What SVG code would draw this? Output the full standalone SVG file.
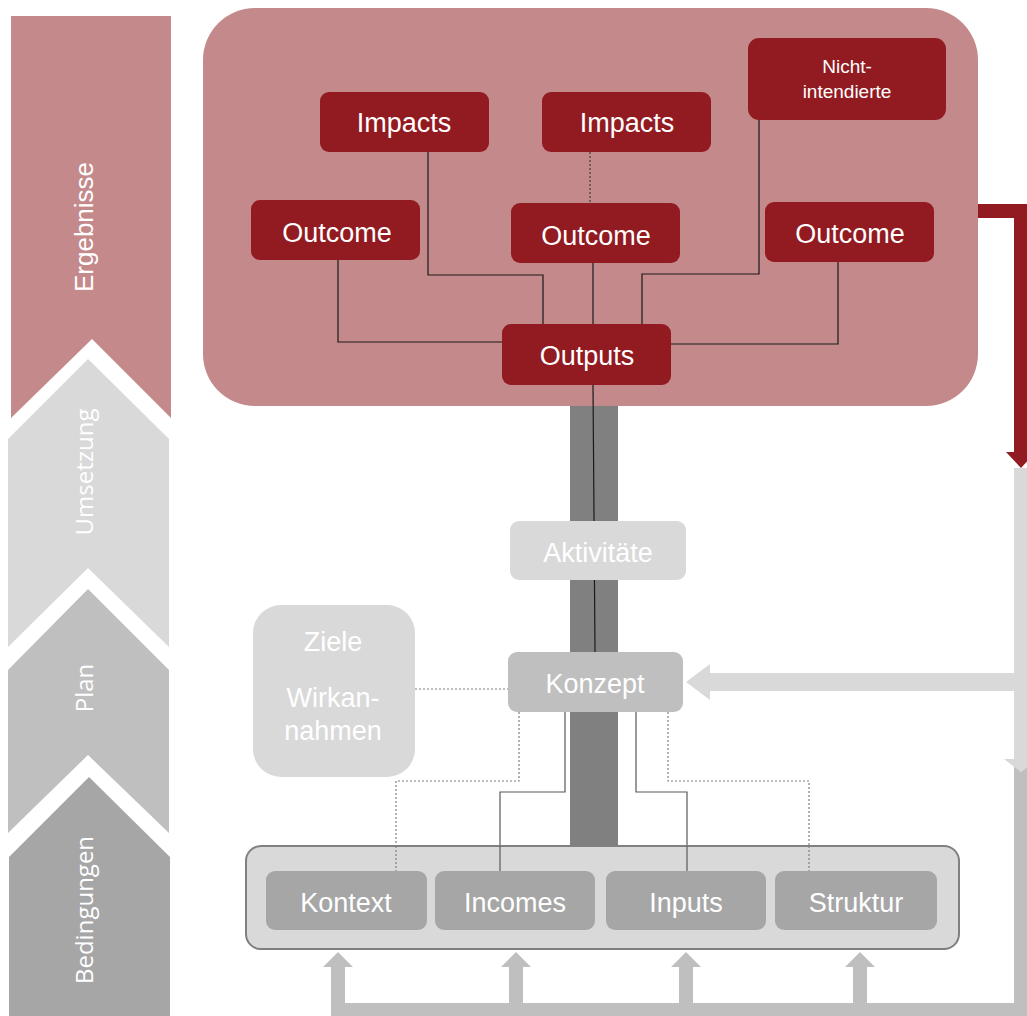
<svg xmlns="http://www.w3.org/2000/svg" width="1027" height="1016" viewBox="0 0 1027 1016">
<style>
.side{font-family:"Open Sans","Liberation Sans",sans-serif;font-size:24px;fill:#ffffff;text-anchor:middle}
.lbl{font-family:"Liberation Sans",Arial,sans-serif;font-size:27px;fill:#ffffff;text-anchor:middle}
.red{fill:#921A21}
.ln{fill:none;stroke:#1a1a1a;stroke-width:1.2}
.dash{fill:none;stroke:#2a2a2a;stroke-width:1;stroke-dasharray:2 2}
.gln{fill:none;stroke:#595959;stroke-width:1.2}
.gdot{fill:none;stroke:#7f7f7f;stroke-width:1.2;stroke-dasharray:2 2}
</style>
<rect width="1027" height="1016" fill="#ffffff"/>
<g id="phases">
<polygon points="11,16 171,16 171,418 92,339 11,418" fill="#C4898A"/>
<polygon points="8,439 88,359 169,439 169,647 88,568 8,647" fill="#D9D9D9"/>
<polygon points="8,670 88,589 169,670 169,833 88,755 8,833" fill="#BFBFBF"/>
<polygon points="9,857 89,777 170,857 170,1016 9,1016" fill="#A6A6A6"/>
<text class="side" style="font-family:'Liberation Sans',Arial,sans-serif;font-size:26px" transform="translate(93,227) rotate(-90)">Ergebnisse</text>
<text class="side" transform="translate(93,472) rotate(-90)">Umsetzung</text>
<text class="side" transform="translate(93,688) rotate(-90)">Plan</text>
<text class="side" transform="translate(93,910) rotate(-90)">Bedingungen</text>
</g>
<g id="flow-arrows">
<polygon points="975,204 1028,204 1028,452 1036,452 1021,468 1006,452 1014,452 1014,218 975,218" fill="#921A21"/>
<rect x="1014" y="760" width="14" height="256" fill="#BFBFBF"/>
<polygon points="1014,468 1028,468 1028,759 1038,759 1021,772 1004,759 1014,759" fill="#D9D9D9"/>
<polygon points="1014,673 710,673 710,664 686,682 710,700 710,691 1014,691" fill="#D9D9D9"/>
<rect x="331" y="1003" width="696" height="13" fill="#BFBFBF"/>
<polygon points="331,1010 331,967 323,967 338,952 353,967 345,967 345,1010" fill="#BFBFBF"/>
<polygon points="509,1010 509,967 501,967 516,952 531,967 523,967 523,1010" fill="#BFBFBF"/>
<polygon points="679,1010 679,967 671,967 686,952 701,967 693,967 693,1010" fill="#BFBFBF"/>
<polygon points="853,1010 853,967 845,967 860,952 875,967 867,967 867,1010" fill="#BFBFBF"/>
</g>
<g id="bar">
<rect x="570" y="400" width="48" height="450" fill="#808080"/>
</g>
<g id="ergebnisse-box">
<rect x="203" y="8" width="775" height="398" rx="52" fill="#C4898A"/>
</g>
<g id="connectors">
<polyline class="ln" points="338,260 338,342 503,342"/>
<polyline class="ln" points="428,152 428,275 543,275 543,324"/>
<line class="dash" x1="590" y1="152" x2="590" y2="203"/>
<line class="ln" x1="593" y1="263" x2="593" y2="324"/>
<polyline class="ln" points="759,120 759,274 642,274 642,324"/>
<polyline class="ln" points="838,262 838,344 670,344"/>
<line class="ln" x1="593" y1="385" x2="595" y2="652"/>
<line class="gdot" x1="415" y1="689" x2="508" y2="689"/>
<polyline class="gdot" points="519,712 519,781 396,781 396,871"/>
<polyline class="gln" points="565,712 565,792 500,792 500,871"/>
<polyline class="gln" points="636,712 636,792 687,792 687,871"/>
<polyline class="gdot" points="668,712 668,781 809,781 809,871"/>
</g>
<g id="impacts1"><rect class="red" x="320" y="92" width="169" height="60" rx="9"/><text class="lbl" x="404" y="132">Impacts</text></g>
<g id="impacts2"><rect class="red" x="542" y="92" width="169" height="60" rx="9"/><text class="lbl" x="627" y="132">Impacts</text></g>
<g id="nicht-intendierte"><rect class="red" x="748" y="38" width="198" height="82" rx="11"/><text class="lbl" style="font-size:19px" x="847" y="73">Nicht-</text><text class="lbl" style="font-size:19px" x="847" y="98">intendierte</text></g>
<g id="outcome1"><rect class="red" x="251" y="200" width="169" height="60" rx="9"/><text class="lbl" x="337" y="242">Outcome</text></g>
<g id="outcome2"><rect class="red" x="511" y="203" width="169" height="60" rx="9"/><text class="lbl" x="596" y="245">Outcome</text></g>
<g id="outcome3"><rect class="red" x="765" y="202" width="169" height="60" rx="9"/><text class="lbl" x="850" y="243">Outcome</text></g>
<g id="outputs"><rect class="red" x="502" y="324" width="169" height="61" rx="9"/><text class="lbl" x="587" y="365">Outputs</text></g>
<g id="aktivitaete"><rect x="510" y="521" width="176" height="59" rx="9" fill="#D9D9D9"/><text class="lbl" x="598" y="562">Aktivitäte</text></g>
<g id="konzept"><rect x="508" y="652" width="175" height="60" rx="9" fill="#BFBFBF"/><text class="lbl" x="595" y="693">Konzept</text></g>
<g id="ziele"><rect x="253" y="605" width="162" height="172" rx="28" fill="#D9D9D9"/><text class="lbl" x="333" y="651">Ziele</text><text class="lbl" x="333" y="707">Wirkan-</text><text class="lbl" x="333" y="740">nahmen</text></g>
<g id="bedingungen-box">
<rect x="246" y="846" width="713" height="103" rx="15" fill="#D9D9D9" stroke="#808080" stroke-width="2"/>
</g>
<g id="kontext"><rect x="266" y="871" width="161" height="59" rx="9" fill="#A6A6A6"/><text class="lbl" x="346" y="912">Kontext</text></g>
<g id="incomes"><rect x="435" y="871" width="160" height="59" rx="9" fill="#A6A6A6"/><text class="lbl" x="515" y="912">Incomes</text></g>
<g id="inputs"><rect x="606" y="871" width="160" height="59" rx="9" fill="#A6A6A6"/><text class="lbl" x="686" y="912">Inputs</text></g>
<g id="struktur"><rect x="775" y="871" width="162" height="59" rx="9" fill="#A6A6A6"/><text class="lbl" x="856" y="912">Struktur</text></g>
<g id="connector-ends">
<line class="gdot" x1="396" y1="846" x2="396" y2="871"/>
<line class="gln" x1="500" y1="846" x2="500" y2="871"/>
<line class="gln" x1="687" y1="846" x2="687" y2="871"/>
<line class="gdot" x1="809" y1="846" x2="809" y2="871"/>
</g>
</svg>
